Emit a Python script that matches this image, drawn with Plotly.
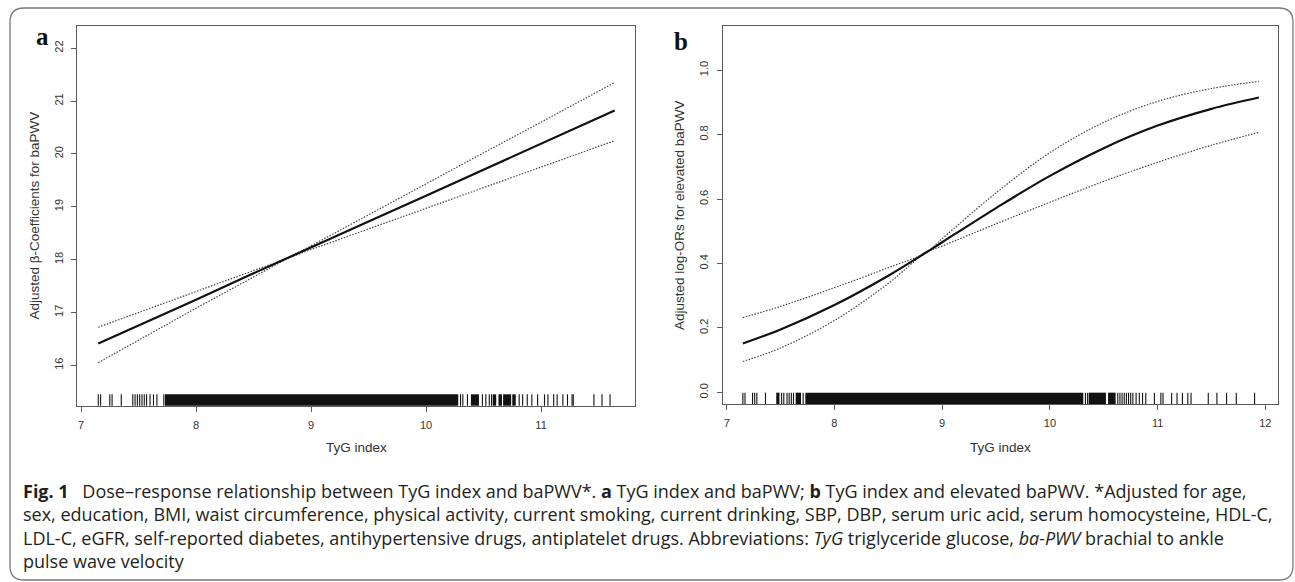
import plotly.graph_objects as go

W, H = 1295, 582

# ---------------- data: panel a (beta coefficients) ----------------
tyg_a = [7.15, 7.5, 8.0, 8.5, 8.8, 9.0, 9.5, 10.0, 10.5, 11.0, 11.64]
beta_a = [16.41, 16.75, 17.24, 17.74, 18.03, 18.23, 18.72, 19.21, 19.70, 20.19, 20.82]
upper_a = [16.72, 17.00, 17.39, 17.79, 18.03, 18.26, 18.85, 19.43, 20.02, 20.60, 21.35]
lower_a = [16.05, 16.48, 17.08, 17.67, 18.03, 18.19, 18.58, 18.97, 19.36, 19.76, 20.25]

rug_ticks_a = [7.15, 7.17, 7.25, 7.27, 7.35, 7.45, 7.47, 7.49, 7.51, 7.53, 7.55, 7.57,
               7.60, 7.63, 7.66, 7.72, 10.30, 10.32, 10.36, 10.49, 10.52, 10.55, 10.57,
               10.81, 10.84, 10.88, 10.92, 10.97, 11.03, 11.06, 11.11, 11.14, 11.19,
               11.23, 11.27, 11.28, 11.46, 11.53, 11.60]
rug_spans_a = [[7.73, 10.28], [10.39, 10.46], [10.58, 10.61], [10.63, 10.66],
               [10.67, 10.74], [10.75, 10.78]]

# ---------------- data: panel b (log-ORs) ----------------
tyg_b = [7.15, 7.5, 8.0, 8.5, 8.85, 9.0, 9.5, 10.0, 10.5, 11.0, 11.5, 11.94]
logor_b = [0.152, 0.195, 0.271, 0.362, 0.434, 0.466, 0.572, 0.672, 0.758, 0.828, 0.880, 0.915]
upper_b = [0.232, 0.267, 0.325, 0.387, 0.434, 0.477, 0.619, 0.744, 0.838, 0.903, 0.943, 0.965]
lower_b = [0.096, 0.138, 0.223, 0.338, 0.434, 0.454, 0.523, 0.590, 0.655, 0.714, 0.767, 0.807]

rug_ticks_b = [7.15, 7.17, 7.24, 7.26, 7.28, 7.36, 7.51, 7.53, 7.56, 7.58, 7.60, 7.62,
               7.71, 10.33, 10.35, 10.63, 10.65, 10.67, 10.69, 10.71, 10.73, 10.75,
               10.77, 10.80, 10.83, 10.86, 10.89, 10.97, 11.03, 11.05, 11.13, 11.18,
               11.23, 11.28, 11.31, 11.47, 11.55, 11.64, 11.73, 11.90]
rug_spans_b = [[7.46, 7.49], [7.64, 7.69], [7.73, 10.31], [10.36, 10.52], [10.54, 10.61]]

xticks_a = [7, 8, 9, 10, 11]
yticks_a = [16, 17, 18, 19, 20, 21, 22]
xticks_b = [7, 8, 9, 10, 11, 12]
yticks_b = [0.0, 0.2, 0.4, 0.6, 0.8, 1.0]
ytext_b = ["0.0", "0.2", "0.4", "0.6", "0.8", "1.0"]

caption = [
    "<b>Fig. 1</b>\u2002 Dose\u2013response relationship between TyG index and baPWV*. <b>a</b> TyG index and baPWV; "
    "<b>b</b> TyG index and elevated baPWV. *Adjusted for age,",
    "sex, education, BMI, waist circumference, physical activity, current smoking, current drinking, SBP, DBP, "
    "serum uric acid, serum homocysteine, HDL-C,",
    "LDL-C, eGFR, self-reported diabetes, antihypertensive drugs, antiplatelet drugs. Abbreviations: "
    "<i>TyG</i> triglyceride glucose, <i>ba-PWV</i> brachial to ankle",
    "pulse wave velocity",
]


def fx(px):
    return px / W


def fy(py):
    return 1 - py / H


AX_FONT = dict(family="Liberation Sans, Arial, sans-serif", size=11, color="#333")
LINE_COL = "#5a5a5a"

fig = go.Figure()

# panel a curves
fig.add_trace(go.Scatter(x=tyg_a, y=upper_a, mode="lines", xaxis="x", yaxis="y",
                         line=dict(color="#444", width=1.2, dash="1.5px,1.5px"), showlegend=False))
fig.add_trace(go.Scatter(x=tyg_a, y=lower_a, mode="lines", xaxis="x", yaxis="y",
                         line=dict(color="#444", width=1.2, dash="1.5px,1.5px"), showlegend=False))
fig.add_trace(go.Scatter(x=tyg_a, y=beta_a, mode="lines", xaxis="x", yaxis="y",
                         line=dict(color="#111", width=2.2), showlegend=False))

# panel b curves
fig.add_trace(go.Scatter(x=tyg_b, y=upper_b, mode="lines", xaxis="x2", yaxis="y2",
                         line=dict(color="#444", width=1.2, dash="1.5px,1.5px", shape="spline"),
                         showlegend=False))
fig.add_trace(go.Scatter(x=tyg_b, y=lower_b, mode="lines", xaxis="x2", yaxis="y2",
                         line=dict(color="#444", width=1.2, dash="1.5px,1.5px", shape="spline"),
                         showlegend=False))
fig.add_trace(go.Scatter(x=tyg_b, y=logor_b, mode="lines", xaxis="x2", yaxis="y2",
                         line=dict(color="#111", width=2.2, shape="spline"), showlegend=False))

shapes = []
for xr, ticks, spans in (("x", rug_ticks_a, rug_spans_a), ("x2", rug_ticks_b, rug_spans_b)):
    yr = "y domain" if xr == "x" else "y2 domain"
    for v in ticks:
        shapes.append(dict(type="line", xref=xr, yref=yr, x0=v, x1=v, y0=0, y1=0.03,
                           line=dict(color="#111", width=1.1)))
    for s0, s1 in spans:
        shapes.append(dict(type="rect", xref=xr, yref=yr, x0=s0, x1=s1, y0=0, y1=0.03,
                           fillcolor="#111", line=dict(width=0)))

# rounded outer frame
L, T, R, B, r = 10, 8, 1293, 580, 14
pts = (f"M {fx(L + r)},{fy(T)} L {fx(R - r)},{fy(T)} Q {fx(R)},{fy(T)} {fx(R)},{fy(T + r)} "
       f"L {fx(R)},{fy(B - r)} Q {fx(R)},{fy(B)} {fx(R - r)},{fy(B)} "
       f"L {fx(L + r)},{fy(B)} Q {fx(L)},{fy(B)} {fx(L)},{fy(B - r)} "
       f"L {fx(L)},{fy(T + r)} Q {fx(L)},{fy(T)} {fx(L + r)},{fy(T)} Z")
shapes.append(dict(type="path", xref="paper", yref="paper", path=pts,
                   line=dict(color="#777", width=1.3)))


def xax(domain, rng, ticks, anchor):
    return dict(domain=domain, range=rng, tickvals=ticks, ticks="outside", ticklen=5,
                tickcolor=LINE_COL, tickwidth=1, showline=True, linecolor=LINE_COL, linewidth=1,
                mirror=True, showgrid=False, zeroline=False, tickfont=AX_FONT, anchor=anchor,
                automargin=False, ticklabelstandoff=4, fixedrange=True)


def yax(domain, rng, ticks, anchor, text=None):
    d = dict(domain=domain, range=rng, tickvals=ticks, ticks="outside", ticklen=5,
             tickcolor=LINE_COL, tickwidth=1, showline=True, linecolor=LINE_COL, linewidth=1,
             mirror=True, showgrid=False, zeroline=False, tickfont=AX_FONT, anchor=anchor,
             tickangle=-90, automargin=False, ticklabelstandoff=4, fixedrange=True)
    if text is not None:
        d["ticktext"] = text
    return d


annotations = []
TITLE_FONT = dict(family="Liberation Sans, Arial, sans-serif", size=13.5, color="#333")
annotations.append(dict(text="Adjusted β-Coefficients for baPWV", x=fx(34), y=fy(215.5),
                        xref="paper", yref="paper", textangle=-90, showarrow=False,
                        font=TITLE_FONT, xanchor="center", yanchor="middle"))
annotations.append(dict(text="Adjusted log-ORs for elevated baPWV", x=fx(679), y=fy(215),
                        xref="paper", yref="paper", textangle=-90, showarrow=False,
                        font=TITLE_FONT, xanchor="center", yanchor="middle"))
annotations.append(dict(text="TyG index", x=fx(356), y=fy(447), xref="paper", yref="paper",
                        showarrow=False, font=TITLE_FONT, xanchor="center", yanchor="middle"))
annotations.append(dict(text="TyG index", x=fx(1000.5), y=fy(447), xref="paper", yref="paper",
                        showarrow=False, font=TITLE_FONT, xanchor="center", yanchor="middle"))
LETTER_FONT = dict(family="Liberation Serif, Times New Roman, serif", size=25, color="#111")
annotations.append(dict(text="<b>a</b>", x=fx(42.5), y=fy(36), xref="paper", yref="paper",
                        showarrow=False, font=LETTER_FONT, xanchor="center", yanchor="middle"))
annotations.append(dict(text="<b>b</b>", x=fx(681), y=fy(42), xref="paper", yref="paper",
                        showarrow=False, font=LETTER_FONT, xanchor="center", yanchor="middle"))

CAP_FONT = dict(family="Open Sans, Noto Sans, sans-serif", size=18, color="#231f20")
for i, line in enumerate(caption):
    annotations.append(dict(text=line, x=fx(21), y=fy(491 + 23.4 * i), xref="paper", yref="paper",
                            showarrow=False, font=CAP_FONT, xanchor="left", yanchor="middle",
                            align="left"))

fig.update_layout(
    width=W, height=H,
    margin=dict(l=0, r=0, t=0, b=0),
    paper_bgcolor="white", plot_bgcolor="white",
    xaxis=xax([fx(77), fx(635)], [6.965, 11.817], xticks_a, "y"),
    yaxis=yax([fy(405.7), fy(26)], [15.235, 22.42], yticks_a, "x"),
    xaxis2=xax([fx(722.7), fx(1278.3)], [6.963, 12.12], xticks_b, "y2"),
    yaxis2=yax([fy(404), fy(26)], [-0.036, 1.137], yticks_b, "x2", ytext_b),
    shapes=shapes,
    annotations=annotations,
    showlegend=False,
)

fig.write_html("out.html", config={"displayModeBar": False},
               post_script="document.body.style.margin='0';document.body.style.overflow='hidden';")
